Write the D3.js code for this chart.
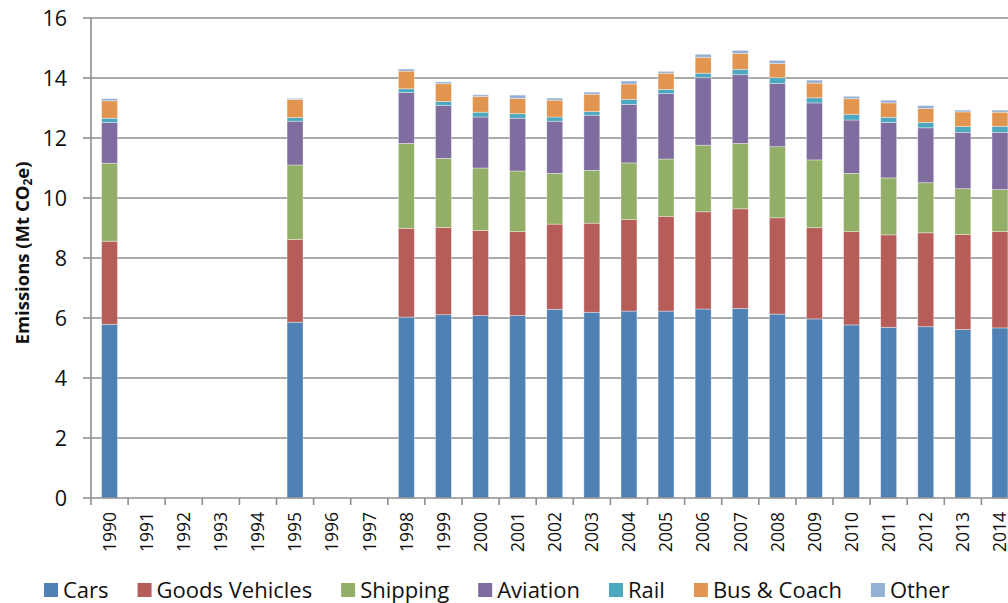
<!DOCTYPE html>
<html>

<head>
  <meta charset="utf-8">
  <script src="https://d3js.org/d3.v7.min.js"></script>
  <style>
    html,
    body {
      margin: 0;
      padding: 0;
      background: white;
      overflow: hidden;
    }
    svg {
      display: block;
      font-family: "Open Sans", sans-serif;
    }
  </style>
</head>

<body>
  <div id="chart"></div>

  <script>
    var years = ["1990", "1991", "1992", "1993", "1994", "1995", "1996", "1997", "1998", "1999",
      "2000", "2001", "2002", "2003", "2004", "2005", "2006", "2007", "2008", "2009",
      "2010", "2011", "2012", "2013", "2014"];

    // null = no data for that year
    var cars = [5.79, null, null, null, null, 5.86, null, null, 6.03, 6.11,
      6.08, 6.08, 6.29, 6.19, 6.23, 6.23, 6.30, 6.32, 6.13, 5.97,
      5.77, 5.69, 5.71, 5.62, 5.67];
    var goodsVehicles = [2.77, null, null, null, null, 2.76, null, null, 2.96, 2.91,
      2.84, 2.80, 2.84, 2.97, 3.05, 3.16, 3.24, 3.32, 3.21, 3.04,
      3.11, 3.08, 3.13, 3.16, 3.21];
    var shipping = [2.60, null, null, null, null, 2.48, null, null, 2.83, 2.30,
      2.08, 2.02, 1.69, 1.76, 1.89, 1.91, 2.22, 2.18, 2.37, 2.26,
      1.94, 1.90, 1.67, 1.53, 1.40];
    var aviation = [1.36, null, null, null, null, 1.46, null, null, 1.70, 1.77,
      1.70, 1.76, 1.74, 1.84, 1.95, 2.18, 2.25, 2.29, 2.11, 1.90,
      1.78, 1.85, 1.83, 1.88, 1.91];
    var rail = [0.14, null, null, null, null, 0.12, null, null, 0.12, 0.13,
      0.16, 0.15, 0.14, 0.12, 0.17, 0.14, 0.15, 0.18, 0.19, 0.17,
      0.19, 0.17, 0.18, 0.19, 0.20];
    var busCoach = [0.58, null, null, null, null, 0.60, null, null, 0.59, 0.59,
      0.52, 0.51, 0.56, 0.58, 0.51, 0.54, 0.53, 0.53, 0.47, 0.49,
      0.52, 0.48, 0.46, 0.49, 0.47];
    var other = [0.07, null, null, null, null, 0.04, null, null, 0.07, 0.06,
      0.06, 0.11, 0.07, 0.07, 0.10, 0.06, 0.10, 0.10, 0.11, 0.10,
      0.08, 0.09, 0.10, 0.06, 0.07];

    var seriesNames = ["Cars", "Goods Vehicles", "Shipping", "Aviation", "Rail", "Bus & Coach", "Other"];
    var seriesValues = [cars, goodsVehicles, shipping, aviation, rail, busCoach, other];
    var colors = ["#4F81B5", "#B75D59", "#93AE66", "#7F6DA0", "#4BA8BE", "#E2954F", "#95B0D5"];

    var yTicks = [0, 2, 4, 6, 8, 10, 12, 14, 16];

    var width = 1008;
    var height = 603;
    var gridColor = "#8E8E8E";

    // the plot area runs past the right edge of the picture
    var plotLeft = 91;
    var plotRight = 1018.5;
    var plotTop = 18;
    var plotBottom = 498;

    var svg = d3.select("#chart")
      .append("svg")
      .attr("width", width)
      .attr("height", height);

    var x = d3.scaleBand()
      .domain(years)
      .range([plotLeft, plotRight])
      .paddingInner(0.57)
      .paddingOuter(0.285);

    var y = d3.scaleLinear()
      .domain([0, 16])
      .range([plotBottom, plotTop]);

    // table for d3.stack
    var table = years.map(function (yr, i) {
      var row = { year: yr, has: cars[i] !== null };
      seriesNames.forEach(function (name, s) {
        row[name] = seriesValues[s][i] || 0;
      });
      return row;
    });

    var stacked = d3.stack().keys(seriesNames)(table);

    // gridlines
    svg.append("g")
      .selectAll("line")
      .data(yTicks.slice(1))
      .join("line")
      .attr("x1", plotLeft)
      .attr("x2", width)
      .attr("y1", d => y(d))
      .attr("y2", d => y(d))
      .attr("stroke", gridColor)
      .attr("stroke-width", 1.6);

    // bars
    svg.append("g")
      .selectAll("g")
      .data(stacked)
      .join("g")
      .attr("fill", (d, i) => colors[i])
      .selectAll("rect")
      .data(d => d.filter(p => p.data.has))
      .join("rect")
      .attr("x", d => x(d.data.year))
      .attr("width", x.bandwidth())
      .attr("y", d => y(d[1]))
      .attr("height", d => y(d[0]) - y(d[1]))
      .attr("stroke", "white")
      .attr("stroke-opacity", 0.45)
      .attr("stroke-width", 0.8);

    // y axis
    var yAxis = svg.append("g");
    yAxis.append("line")
      .attr("x1", plotLeft).attr("x2", plotLeft)
      .attr("y1", plotTop).attr("y2", plotBottom)
      .attr("stroke", gridColor)
      .attr("stroke-width", 1.6);
    yAxis.selectAll(".tick")
      .data(yTicks)
      .join("line")
      .attr("x1", plotLeft - 8)
      .attr("x2", plotLeft)
      .attr("y1", d => y(d))
      .attr("y2", d => y(d))
      .attr("stroke", gridColor)
      .attr("stroke-width", 1.6);
    yAxis.selectAll("text")
      .data(yTicks)
      .join("text")
      .attr("x", plotLeft - 24)
      .attr("y", d => y(d))
      .attr("dy", "0.36em")
      .attr("text-anchor", "end")
      .attr("font-size", "21.5px")
      .attr("fill", "#111")
      .text(d => d);

    // x axis
    var xAxis = svg.append("g");
    xAxis.append("line")
      .attr("x1", plotLeft).attr("x2", width)
      .attr("y1", plotBottom).attr("y2", plotBottom)
      .attr("stroke", gridColor)
      .attr("stroke-width", 1.6);
    xAxis.selectAll(".tick")
      .data(years.concat(["end"]))
      .join("line")
      .attr("x1", (d, i) => plotLeft + i * x.step())
      .attr("x2", (d, i) => plotLeft + i * x.step())
      .attr("y1", plotBottom)
      .attr("y2", plotBottom + 7)
      .attr("stroke", gridColor)
      .attr("stroke-width", 1.6);
    xAxis.selectAll("text")
      .data(years)
      .join("text")
      .attr("transform", d => "translate(" + (x(d) + x.bandwidth() / 2) + "," + (plotBottom + 14) + ") rotate(-90)")
      .attr("dy", "0.36em")
      .attr("text-anchor", "end")
      .attr("font-size", "17.5px")
      .attr("fill", "#111")
      .text(d => d);

    // y axis title
    var title = svg.append("text")
      .attr("transform", "translate(22,253) rotate(-90)")
      .attr("text-anchor", "middle")
      .attr("dy", "0.36em")
      .attr("font-size", "18.5px")
      .attr("font-weight", "bold")
      .attr("fill", "#111");
    title.append("tspan").text("Emissions (Mt CO");
    title.append("tspan").attr("font-size", "12px").attr("dy", "0.25em").text("2");
    title.append("tspan").attr("dy", "-0.17em").text("e)");

    // legend
    var legend = svg.append("g");
    var lx = 44;
    seriesNames.forEach(function (name, i) {
      legend.append("rect")
        .attr("x", lx)
        .attr("y", 583)
        .attr("width", 14)
        .attr("height", 14)
        .attr("fill", colors[i]);
      var t = legend.append("text")
        .attr("x", lx + 19)
        .attr("y", 590)
        .attr("dy", "0.36em")
        .attr("font-size", "22px")
        .attr("fill", "#111")
        .text(name);
      lx += 19 + t.node().getComputedTextLength() + 29;
    });
  </script>
</body>

</html>
